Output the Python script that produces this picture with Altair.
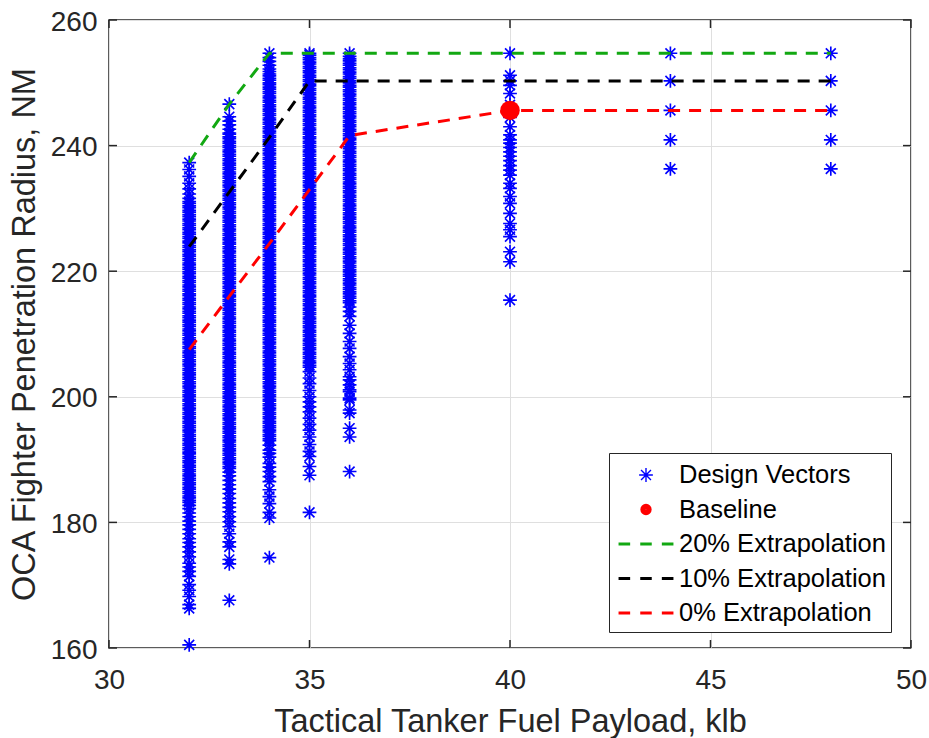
import altair as alt
import pandas as pd

FONT = "Liberation Sans"
AX = "#262626"

# ---------------- data ----------------
payload_cols = [32, 33, 34, 35, 36, 40, 44, 48]

radius_32 = [160.5, 166.3, 166.9, 168.2, 169.2, 170.1, 171.4, 172.2, 172.9, 173.5, 174.5, 175.3,
             176.1, 176.8, 177.4, 178.2, 178.9, 179.6, 180.2, 180.9, 181.5, 182.2, 182.7,
             183.2, 183.5, 183.9, 184.2, 184.6, 184.9, 185.3, 185.6, 186.0, 186.3, 186.7, 187.0,
             187.4, 187.7, 188.1, 188.4, 188.8, 189.1, 189.5, 189.8, 190.2, 190.5, 190.9, 191.2,
             191.6, 191.9, 192.3, 192.6, 193.0, 193.3, 193.7, 194.0, 194.4, 194.7, 195.1, 195.4,
             195.8, 196.1, 196.5, 196.8, 197.2, 197.5, 197.9, 198.2, 198.6, 198.9, 199.3, 199.6,
             200.0, 200.3, 200.7, 201.0, 201.4, 201.7, 202.1, 202.4, 202.8, 203.1, 203.5, 203.8,
             204.2, 204.5, 204.9, 205.2, 205.6, 205.9, 206.3, 206.6, 207.0, 207.3, 207.7, 208.0,
             208.4, 208.7, 209.1, 209.4, 209.8, 210.1, 210.5, 210.8, 211.2, 211.5, 211.9, 212.2,
             212.6, 212.9, 213.3, 213.6, 214.0, 214.3, 214.7, 215.0, 215.4, 215.7, 216.1, 216.4,
             216.8, 217.1, 217.5, 217.8, 218.2, 218.5, 218.9, 219.2, 219.6, 219.9, 220.3, 220.6,
             221.0, 221.3, 221.7, 222.0, 222.4, 222.7, 223.1, 223.4, 223.8, 224.1, 224.5, 224.8,
             225.2, 225.5, 225.9, 226.2, 226.6, 226.9, 227.3, 227.6, 228.0, 228.3, 228.7, 229.0,
             229.4, 229.7, 230.1, 230.4, 230.8, 231.1,
             231.6, 232.3, 233.1, 234.0, 235.1, 236.2, 237.3]

radius_33 = [167.6, 173.4, 174.1, 176.1, 176.9, 178.2, 179.3, 180.1, 180.9, 181.7, 182.4, 183.1,
             183.8, 184.6, 185.3, 186.0, 186.7, 187.4, 188.0,
             188.6, 188.9, 189.3, 189.6, 190.0, 190.3, 190.7, 191.0, 191.4, 191.7, 192.1, 192.4,
             192.8, 193.1, 193.5, 193.8, 194.2, 194.5, 194.9, 195.2, 195.6, 195.9, 196.3, 196.6,
             197.0, 197.3, 197.7, 198.0, 198.4, 198.7, 199.1, 199.4, 199.8, 200.1, 200.5, 200.8,
             201.2, 201.5, 201.9, 202.2, 202.6, 202.9, 203.3, 203.6, 204.0, 204.3, 204.7, 205.0,
             205.4, 205.7, 206.1, 206.4, 206.8, 207.1, 207.5, 207.8, 208.2, 208.5, 208.9, 209.2,
             209.6, 209.9, 210.3, 210.6, 211.0, 211.3, 211.7, 212.0, 212.4, 212.7, 213.1, 213.4,
             213.8, 214.1, 214.5, 214.8, 215.2, 215.5, 215.9, 216.2, 216.6, 216.9, 217.3, 217.6,
             218.0, 218.3, 218.7, 219.0, 219.4, 219.7, 220.1, 220.4, 220.8, 221.1, 221.5, 221.8,
             222.2, 222.5, 222.9, 223.2, 223.6, 223.9, 224.3, 224.6, 225.0, 225.3, 225.7, 226.0,
             226.4, 226.7, 227.1, 227.4, 227.8, 228.1, 228.5, 228.8, 229.2, 229.5, 229.9, 230.2,
             230.6, 230.9, 231.3, 231.6, 232.0, 232.3, 232.7, 233.0, 233.4, 233.7, 234.1, 234.4,
             234.8, 235.1, 235.5, 235.8, 236.2, 236.5, 236.9, 237.2, 237.6, 237.9, 238.3, 238.6,
             239.0, 239.3, 239.7, 240.0, 240.4, 240.7, 241.1, 241.4, 241.8, 242.0,
             242.6, 243.3, 243.9, 244.6, 246.6]

radius_34 = [174.4, 180.7, 181.6, 183.0, 184.1, 185.2, 186.5, 187.3, 188.1, 188.8, 189.4, 190.4,
             191.0, 191.5, 192.3,
             193.0, 193.3, 193.7, 194.0, 194.4, 194.7, 195.1, 195.4, 195.8, 196.1, 196.5, 196.8,
             197.2, 197.5, 197.9, 198.2, 198.6, 198.9, 199.3, 199.6, 200.0, 200.3, 200.7, 201.0,
             201.4, 201.7, 202.1, 202.4, 202.8, 203.1, 203.5, 203.8, 204.2, 204.5, 204.9, 205.2,
             205.6, 205.9, 206.3, 206.6, 207.0, 207.3, 207.7, 208.0, 208.4, 208.7, 209.1, 209.4,
             209.8, 210.1, 210.5, 210.8, 211.2, 211.5, 211.9, 212.2, 212.6, 212.9, 213.3, 213.6,
             214.0, 214.3, 214.7, 215.0, 215.4, 215.7, 216.1, 216.4, 216.8, 217.1, 217.5, 217.8,
             218.2, 218.5, 218.9, 219.2, 219.6, 219.9, 220.3, 220.6, 221.0, 221.3, 221.7, 222.0,
             222.4, 222.7, 223.1, 223.4, 223.8, 224.1, 224.5, 224.8, 225.2, 225.5, 225.9, 226.2,
             226.6, 226.9, 227.3, 227.6, 228.0, 228.3, 228.7, 229.0, 229.4, 229.7, 230.1, 230.4,
             230.8, 231.1, 231.5, 231.8, 232.2, 232.5, 232.9, 233.2, 233.6, 233.9, 234.3, 234.6,
             235.0, 235.3, 235.7, 236.0, 236.4, 236.7, 237.1, 237.4, 237.8, 238.1, 238.5, 238.8,
             239.2, 239.5, 239.9, 240.2, 240.6, 240.9, 241.3, 241.6, 242.0, 242.3, 242.7, 243.0,
             243.4, 243.7, 244.1, 244.4, 244.8, 245.1, 245.5, 245.8, 246.2, 246.5, 246.9, 247.2,
             247.6, 247.9, 248.3, 248.6, 249.0, 249.3, 249.7, 250.0, 250.4, 250.7, 251.1, 251.4,
             251.8, 252.2,
             252.8, 253.4, 254.0, 254.7]

radius_35 = [181.6, 187.5, 188.9, 190.5, 191.3, 192.4, 193.6, 194.7, 195.6, 196.6, 197.6, 198.4,
             199.2, 200.0, 201.0, 202.1, 203.0, 204.0,
             204.7, 205.0, 205.4, 205.7, 206.1, 206.4, 206.8, 207.1, 207.5, 207.8, 208.2, 208.5,
             208.9, 209.2, 209.6, 209.9, 210.3, 210.6, 211.0, 211.3, 211.7, 212.0, 212.4, 212.7,
             213.1, 213.4, 213.8, 214.1, 214.5, 214.8, 215.2, 215.5, 215.9, 216.2, 216.6, 216.9,
             217.3, 217.6, 218.0, 218.3, 218.7, 219.0, 219.4, 219.7, 220.1, 220.4, 220.8, 221.1,
             221.5, 221.8, 222.2, 222.5, 222.9, 223.2, 223.6, 223.9, 224.3, 224.6, 225.0, 225.3,
             225.7, 226.0, 226.4, 226.7, 227.1, 227.4, 227.8, 228.1, 228.5, 228.8, 229.2, 229.5,
             229.9, 230.2, 230.6, 230.9, 231.3, 231.6, 232.0, 232.3, 232.7, 233.0, 233.4, 233.7,
             234.1, 234.4, 234.8, 235.1, 235.5, 235.8, 236.2, 236.5, 236.9, 237.2, 237.6, 237.9,
             238.3, 238.6, 239.0, 239.3, 239.7, 240.0, 240.4, 240.7, 241.1, 241.4, 241.8, 242.1,
             242.5, 242.8, 243.2, 243.5, 243.9, 244.2, 244.6, 244.9, 245.3, 245.6, 246.0, 246.3,
             246.7, 247.0, 247.4, 247.7, 248.1, 248.4, 248.8, 249.1, 249.5, 249.8, 250.2, 250.5,
             250.9, 251.2, 251.6, 251.9, 252.3, 252.6, 253.0, 253.3, 253.7, 254.0, 254.4, 254.7]

radius_36 = [188.1, 193.6, 195.0, 197.4, 197.9, 199.5, 199.8, 200.8, 201.1, 201.9, 202.7, 203.2,
             204.3, 205.3, 206.4, 207.7, 208.8, 210.1, 211.4, 212.8, 213.6, 214.3,
             215.0, 215.3, 215.7, 216.0, 216.4, 216.7, 217.1, 217.4, 217.8, 218.1, 218.5, 218.8,
             219.2, 219.5, 219.9, 220.2, 220.6, 220.9, 221.3, 221.6, 222.0, 222.3, 222.7, 223.0,
             223.4, 223.7, 224.1, 224.4, 224.8, 225.1, 225.5, 225.8, 226.2, 226.5, 226.9, 227.2,
             227.6, 227.9, 228.3, 228.6, 229.0, 229.3, 229.7, 230.0, 230.4, 230.7, 231.1, 231.4,
             231.8, 232.1, 232.5, 232.8, 233.2, 233.5, 233.9, 234.2, 234.6, 234.9, 235.3, 235.6,
             236.0, 236.3, 236.7, 237.0, 237.4, 237.7, 238.1, 238.4, 238.8, 239.1, 239.5, 239.8,
             240.2, 240.5, 240.9, 241.2, 241.6, 241.9, 242.3, 242.6, 243.0, 243.3, 243.7, 244.0,
             244.4, 244.7, 245.1, 245.4, 245.8, 246.1, 246.5, 246.8, 247.2, 247.5, 247.9, 248.2,
             248.6, 248.9, 249.3, 249.6, 250.0, 250.3, 250.7, 251.0, 251.4, 251.7, 252.1, 252.4,
             252.8, 253.1, 253.5, 253.8, 254.2, 254.7]

radius_40 = [215.4, 221.5, 223.1, 225.5, 226.6, 227.6, 229.2, 230.8, 231.9, 233.2, 234.0, 235.3,
             236.1, 236.8, 237.6, 238.3, 239.0, 239.7, 240.4, 240.9, 241.7, 243.0, 244.5, 245.6,
             246.5, 248.3, 249.6, 250.3, 251.2, 254.7]

radius_44 = [236.3, 240.9, 245.6, 250.3, 254.7]
radius_48 = [236.3, 240.9, 245.6, 250.3, 254.7]

radius_by_col = [radius_32, radius_33, radius_34, radius_35, radius_36,
                 radius_40, radius_44, radius_48]

baseline_payload = [40]
baseline_radius = [245.6]

extrap_payload = [32, 33, 34, 35, 36, 40, 44, 48]
extrap_20 = [237.3, 246.6, 254.7, 254.7, 254.7, 254.7, 254.7, 254.7]
extrap_10 = [223.9, 232.6, 241.3, 250.3, 250.3, 250.3, 250.3, 250.3]
extrap_0 = [207.5, 216.0, 224.4, 233.0, 241.6, 245.6, 245.6, 245.6]

series_names = ["Design Vectors", "Baseline", "20% Extrapolation",
                "10% Extrapolation", "0% Extrapolation"]
series_colors = ["#0000ff", "#ff0000", "#12a812", "#000000", "#ff0000"]

x_ticks = [30, 35, 40, 45, 50]
y_ticks = [160, 180, 200, 220, 240, 260]

# ---------------- tables ----------------
design = pd.DataFrame(
    [{"payload": x, "radius": r, "series": series_names[0]}
     for x, col in zip(payload_cols, radius_by_col) for r in col]
)
base_df = pd.DataFrame({"payload": baseline_payload, "radius": baseline_radius,
                        "series": [series_names[1]]})
lines_df = pd.concat([
    pd.DataFrame({"payload": extrap_payload, "radius": vals, "series": name})
    for name, vals in zip(series_names[2:], [extrap_20, extrap_10, extrap_0])
], ignore_index=True)
xt_df = pd.DataFrame({"payload": x_ticks})
yt_df = pd.DataFrame({"radius": y_ticks})

# ---------------- symbols (unit = 16 px at size 1024) ----------------
ASTER = ("M-0.43,0L0.43,0M0,-0.43L0,0.43"
         "M-0.31,-0.31L0.31,0.31M-0.31,0.31L0.31,-0.31")


def ring(r):
    return f"M{r},0A{r},{r},0,1,1,{-r},0A{r},{r},0,1,1,{r},0Z"


DOT = "".join(ring(r) for r in [0.31, 0.235, 0.16, 0.085]) + "M-0.03,0L0.03,0"


def dash_rect(a, b, h=0.047):
    return f"M{a},{-h}L{b},{-h}L{b},{h}L{a},{h}Z"


DASH = dash_rect(-1.672, -1.034) + dash_rect(-0.316, 0.316) + dash_rect(1.034, 1.672)
series_shapes = [ASTER, DOT, DASH, DASH, DASH]

W, H = 802, 628

xs = alt.Scale(domain=[30, 50], nice=False, zero=False)
ys = alt.Scale(domain=[160, 260], nice=False, zero=False)

x_axis = alt.Axis(values=x_ticks, grid=True, ticks=False, domain=False,
                  labelFont=FONT, labelFontSize=28, labelColor=AX, labelPadding=18,
                  labelFlush=False, labelOverlap=False,
                  title="Tactical Tanker Fuel Payload, klb", titleFont=FONT,
                  titleFontSize=32.5, titleFontWeight="normal", titleColor=AX,
                  titleY=83, titleBaseline="alphabetic")
y_axis = alt.Axis(values=y_ticks, grid=True, ticks=False, domain=False,
                  labelFont=FONT, labelFontSize=28, labelColor=AX, labelPadding=12,
                  labelFlush=False, labelOverlap=False, labelOffset=2,
                  title="OCA Fighter Penetration Radius, NM", titleFont=FONT,
                  titleFontSize=32.5, titleFontWeight="normal", titleColor=AX,
                  titleX=-75, titleY=H / 2, titleAngle=270, titleAlign="center",
                  titleBaseline="alphabetic")

X = alt.X("payload:Q", scale=xs, axis=x_axis)
Y = alt.Y("radius:Q", scale=ys, axis=y_axis)

color_scale = alt.Scale(domain=series_names, range=series_colors)
shape_scale = alt.Scale(domain=series_names, range=series_shapes)

legend = alt.Legend(title=None, orient="none", legendX=500, legendY=433,
                    symbolSize=1024, symbolStrokeWidth=1.4, symbolOffset=15,
                    labelFont=FONT, labelFontSize=25.5, labelColor="#000000",
                    labelOffset=16, labelLimit=400, padding=5, rowPadding=3.5,
                    strokeColor=AX, fillColor="#ffffff", cornerRadius=0)

points = alt.Chart(design).mark_point(filled=False, strokeWidth=1.65, size=1024,
                                      opacity=1).encode(
    x=X, y=Y,
    color=alt.Color("series:N", scale=color_scale, legend=legend),
    shape=alt.Shape("series:N", scale=shape_scale, legend=legend),
)

lines = alt.Chart(lines_df).mark_line(strokeWidth=3, strokeDash=[12, 9]).encode(
    x=X, y=Y,
    color=alt.Color("series:N", scale=color_scale, legend=None),
    detail="series:N",
    order="payload:Q",
)

base = alt.Chart(base_df).mark_circle(size=380, color="#ff0000", opacity=1).encode(
    x=X, y=Y)

tick_style = dict(color=AX, strokeWidth=1.5)
t_bottom = alt.Chart(xt_df).mark_rule(**tick_style).encode(
    x=X, y=alt.value(H), y2=alt.value(H - 8))
t_top = alt.Chart(xt_df).mark_rule(**tick_style).encode(
    x=X, y=alt.value(0), y2=alt.value(8))
t_left = alt.Chart(yt_df).mark_rule(**tick_style).encode(
    y=Y, x=alt.value(0), x2=alt.value(8))
t_right = alt.Chart(yt_df).mark_rule(**tick_style).encode(
    y=Y, x=alt.value(W), x2=alt.value(W - 8))

chart = alt.layer(points, lines, base, t_bottom, t_top, t_left, t_right).properties(
    width=W, height=H,
    autosize=alt.AutoSizeParams(type="none"),
    padding={"left": 109, "top": 20, "right": 18, "bottom": 90},
    background="#ffffff",
).configure_view(stroke=AX, strokeWidth=1.5).configure_axis(
    gridColor="#dfdfdf", gridWidth=1, gridOpacity=1)

chart.save("out.html", embed_options={"renderer": "svg", "actions": False})
